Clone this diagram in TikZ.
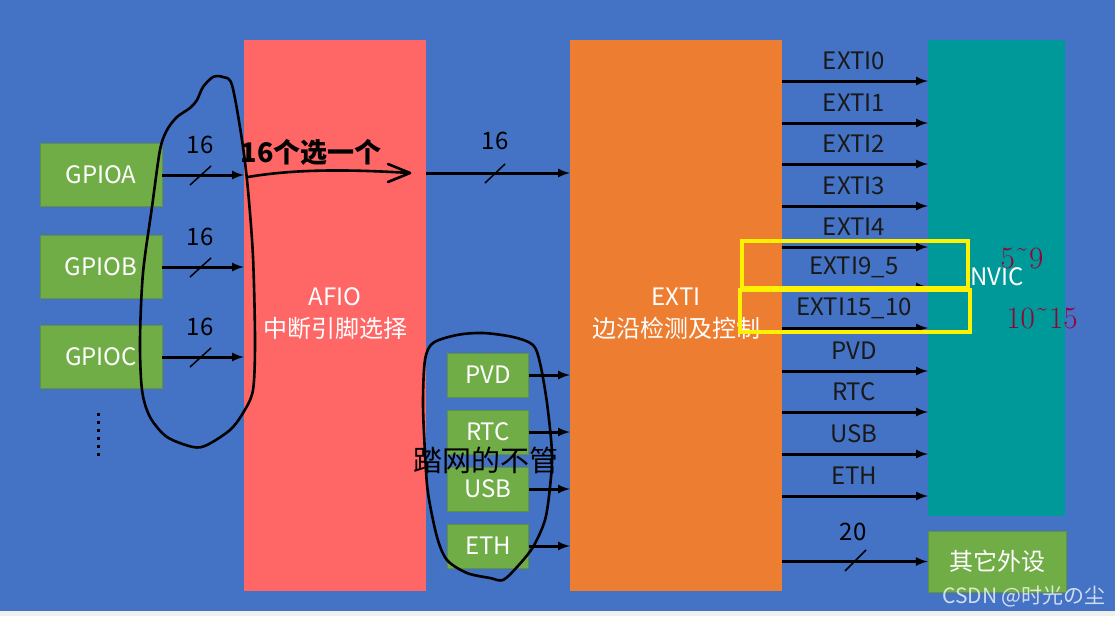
\documentclass[tikz,border=0pt]{standalone}
\usepackage{fontspec}
\newfontfamily\cjk{Noto Sans CJK SC}
\definecolor{bgblue}{HTML}{4472C4}
\definecolor{afiored}{HTML}{FF6666}
\definecolor{extiorange}{HTML}{ED7D31}
\definecolor{nvicteal}{HTML}{009999}
\definecolor{boxgreen}{HTML}{70AD47}
\definecolor{markred}{HTML}{990033}
\definecolor{stripgray}{HTML}{F0F0F0}

\begin{document}
\begin{tikzpicture}[x=1pt,y=-1pt,
		txt/.style={font=\cjk\fontsize{24}{32}\selectfont},
		gbox/.style={txt,fill=boxgreen,draw=boxgreen!85!black,line width=0.6pt,text=white,inner sep=0pt},
		block/.style={txt,draw=none,text=white,align=center,inner sep=0pt},
		arr/.style={-latex,line width=3pt},
		tick/.style={line width=1.5pt},
		hand/.style={line width=2.6pt,line join=round},
		yellowbox/.style={draw=yellow,line width=4.5pt},
		redmark/.style={text=markred,font=\fontsize{31}{32}\selectfont}]
		\useasboundingbox (0,0) rectangle (1115,616);
		\fill[stripgray] (0,0) rectangle (1115,616);
		\fill[bgblue] (0,0) rectangle (1115,611);

		\node[gbox,minimum width=122pt,minimum height=63pt] (gpioa) at (101,175) {GPIOA};
		\node[gbox,minimum width=122pt,minimum height=63pt] (gpiob) at (101,267) {GPIOB};
		\node[gbox,minimum width=122pt,minimum height=63pt] (gpioc) at (101,357) {GPIOC};
		\draw[line width=3pt,dash pattern=on 3pt off 5pt] (98,413) -- (98,456);

		\node[block,fill=afiored,minimum width=182pt,minimum height=551pt] (afio) at (335,315.5) {};
		\node[block,fill=extiorange,minimum width=212pt,minimum height=551pt] (exti) at (676,315.5) {};
		\node[txt,text=white,align=center] (afiotxt) at (335,314) {AFIO\\中断引脚选择};
		\node[txt,text=white,align=center] (extitxt) at (676,314) {EXTI\\边沿检测及控制};
		\node[block,fill=nvicteal,minimum width=137pt,minimum height=476pt] (nvic) at (996.5,278) {};
		\node[gbox,minimum width=138pt,minimum height=61pt] (other) at (997,561.5) {其它外设};

		\foreach \g/\y in {gpioa/175,gpiob/267,gpioc/357}{
			\draw[arr] (\g.east) -- (afio.west |- \g.east);
			\draw[tick] (190,\y+10) -- (211,\y-9);
			\node[txt] (n\g) at (200,\y-30) {16};
		}

		\draw[arr] (afio.east |- 0,173) -- (exti.west |- 0,173);
		\draw[tick] (485,183) -- (505,164);
		\node[txt] (nafio) at (495,141) {16};

		\node[gbox,minimum width=81pt,minimum height=44pt] (pvd) at (488,375) {PVD};
		\node[gbox,minimum width=81pt,minimum height=44pt] (rtc) at (488,432) {RTC};
		\node[gbox,minimum width=81pt,minimum height=44pt] (usb) at (488,489) {USB};
		\node[gbox,minimum width=81pt,minimum height=44pt] (eth) at (488,546) {ETH};
		\foreach \p in {pvd,rtc,usb,eth}
			\draw[arr] (\p.east) -- (exti.west |- \p.east);

		\foreach \lab/\y in {EXTI0/81,EXTI1/123,EXTI2/164,EXTI3/206,EXTI4/247,{EXTI9\_5}/287,{EXTI15\_10}/328,PVD/371,RTC/412,USB/454,ETH/496}{
			\draw[arr] (exti.east |- 0,\y) -- (nvic.west |- 0,\y);
			\node[txt,text=black!90] (lab\y) at (854,\y-20) {\lab};
		}
		\node[txt,text=white] (nvictxt) at (997,277) {NVIC};

		\draw[arr] (exti.east |- other.west) -- (other.west);
		\draw[tick] (845,571) -- (866,550);
		\node[txt] (nother) at (853,532) {20};

		\draw[yellowbox] (742,241) rectangle (968,288);
		\draw[yellowbox] (740,290) rectangle (970,332);
		\node[redmark] (r59) at (1022,258) {5\symbol{"02DC}9};
		\node[redmark] (r1015) at (1042,318) {10\symbol{"02DC}15};

		\draw[hand] plot[smooth cycle] coordinates {(223,77) (232,85) (242,140) (248,190) (253,257) (255,340) (253,390) (243,413) (230,430) (207,445) (193,447) (167,437) (150,417) (142,390) (140,340) (143,273) (152,207) (160,150) (167,130) (177,117) (190,108) (197,100) (203,87) (213,77)};
		\node[font=\cjk\bfseries\fontsize{27}{30}\selectfont] (pick) at (311,152) {16个选一个};
		\draw[hand,line cap=round] (248,177) .. controls (300,168) and (360,170) .. (410,173);
		\draw[hand,line cap=round] (388,164) -- (410,173) -- (388,182);

		\draw[hand] plot[smooth cycle] coordinates {(483,333) (513,337) (533,345) (540,363) (547,403) (552,453) (550,487) (545,520) (533,547) (517,567) (503,580) (490,578) (467,573) (447,560) (437,537) (428,493) (425,453) (423,403) (425,360) (433,343) (457,335)};
		\node[font=\cjk\fontsize{29}{30}\selectfont] (skip) at (486,460) {踏网的不管};

		\node[font=\cjk\fontsize{21}{24}\selectfont,text=white,opacity=0.75] (mark) at (1024,596) {CSDN @时光の尘};
\end{tikzpicture}
\end{document}
